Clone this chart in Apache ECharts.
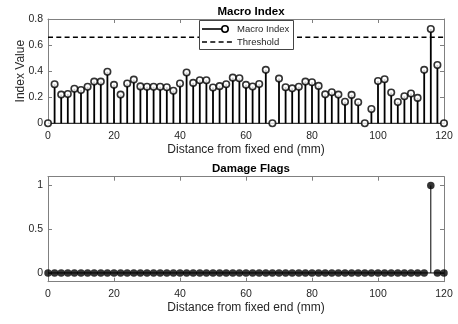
<!DOCTYPE html>
<html>
<head>
<meta charset="utf-8">
<script src="https://cdn.jsdelivr.net/npm/echarts@6/dist/echarts.min.js"></script>
<style>
html,body{margin:0;padding:0;background:#fff;}
#chart{width:458px;height:324px;}
</style>
</head>
<body>
<div id="chart"></div>
<script>
// Positions along the beam (mm)
const positions = [0,2,4,6,8,10,12,14,16,18,20,22,24,26,28,30,32,34,36,38,40,42,44,46,48,50,52,54,56,58,60,62,64,66,68,70,72,74,76,78,80,82,84,86,88,90,92,94,96,98,100,102,104,106,108,110,112,114,116,118,120];
// Macro index values
const macroIndex = [0,0.30,0.22,0.225,0.265,0.255,0.28,0.32,0.32,0.395,0.295,0.22,0.305,0.335,0.283,0.28,0.28,0.28,0.277,0.25,0.305,0.39,0.31,0.33,0.33,0.275,0.285,0.30,0.35,0.345,0.295,0.282,0.302,0.41,0,0.343,0.277,0.268,0.28,0.32,0.315,0.287,0.222,0.238,0.22,0.165,0.218,0.162,0,0.11,0.325,0.338,0.236,0.163,0.207,0.228,0.195,0.41,0.723,0.447,0];
// Damage flags
const damageFlags = [0,0,0,0,0,0,0,0,0,0,0,0,0,0,0,0,0,0,0,0,0,0,0,0,0,0,0,0,0,0,0,0,0,0,0,0,0,0,0,0,0,0,0,0,0,0,0,0,0,0,0,0,0,0,0,0,0,0,1,0,0];
const threshold = 0.66;
const xTicks = [0,20,40,60,80,100,120];
const topYTicks = [0,0.2,0.4,0.6,0.8];
const bottomYTicks = [0,0.5,1];

const FONT = "'Liberation Sans', Arial, Helvetica, sans-serif";
const AX = '#808080';
const TXT = '#262626';

const macroData = positions.map((p,i)=>[p, macroIndex[i]]);
const flagData = positions.map((p,i)=>[p, damageFlags[i]]);

function stemRender(w){
  return function(params, api){
    const x = api.value(0), y = api.value(1);
    const p0 = api.coord([x,0]), p1 = api.coord([x,y]);
    return {type:'line', shape:{x1:p0[0],y1:p0[1],x2:p1[0],y2:p1[1]}, style:{stroke:'#000', lineWidth:w}};
  };
}

function xAx(gi){
  return {
    type:'value', gridIndex:gi, min:0, max:120, interval:20, position:'bottom',
    axisLine:{show:true, onZero:false, lineStyle:{color:AX,width:1}},
    axisTick:{show:true, inside:true, length:4, customValues:xTicks, lineStyle:{color:AX}},
    axisLabel:{show:true, margin:7, fontSize:10.5, fontFamily:FONT, color:TXT, customValues:xTicks},
    splitLine:{show:false},
    name:'Distance from fixed end (mm)', nameLocation:'middle', nameGap:20,
    nameTextStyle:{fontSize:12, fontFamily:FONT, color:TXT}
  };
}
function xAxTop(gi){
  return {
    type:'value', gridIndex:gi, min:0, max:120, interval:20, position:'top',
    axisLine:{show:true, onZero:false, lineStyle:{color:AX,width:1}},
    axisTick:{show:true, inside:true, length:4, customValues:xTicks, lineStyle:{color:AX}},
    axisLabel:{show:false}, splitLine:{show:false}
  };
}

const option = {
  backgroundColor:'#fff',
  animation:false,
  title:[
    {text:'Macro Index', left:246, top:1, textAlign:'center',
     textStyle:{fontSize:11.5, fontWeight:'bold', fontFamily:FONT, color:'#000'}},
    {text:'Damage Flags', left:246, top:158, textAlign:'center',
     textStyle:{fontSize:11.5, fontWeight:'bold', fontFamily:FONT, color:'#000'}}
  ],
  grid:[
    {left:48, right:14, top:19, height:104.3, outerBoundsMode:'none', containLabel:false},
    {left:48, right:14, top:176.7, height:105, outerBoundsMode:'none', containLabel:false}
  ],
  xAxis:[ xAx(0), xAxTop(0), xAx(1), xAxTop(1) ],
  yAxis:[
    {type:'value', gridIndex:0, min:0, max:0.8, interval:0.2, position:'left',
     axisLine:{show:true, onZero:false, lineStyle:{color:AX}},
     axisTick:{show:true, inside:true, length:4, customValues:topYTicks, lineStyle:{color:AX}},
     axisLabel:{margin:5, fontSize:10.5, fontFamily:FONT, color:TXT, customValues:topYTicks, formatter:v=>String(+(+v).toFixed(1))},
     splitLine:{show:false},
     name:'Index Value', nameLocation:'middle', nameGap:21, nameRotate:90, nameMoveOverlap:false,
     nameTextStyle:{fontSize:12, fontFamily:FONT, color:TXT}},
    {type:'value', gridIndex:0, min:0, max:0.8, interval:0.2, position:'right',
     axisLine:{show:true, onZero:false, lineStyle:{color:AX}},
     axisTick:{show:true, inside:true, length:4, customValues:topYTicks, lineStyle:{color:AX}},
     axisLabel:{show:false}, splitLine:{show:false}},
    {type:'value', gridIndex:1, min:-0.1, max:1.1, position:'left',
     axisLine:{show:true, onZero:false, lineStyle:{color:AX}},
     axisTick:{show:true, inside:true, length:4, customValues:bottomYTicks, lineStyle:{color:AX}},
     axisLabel:{margin:5, fontSize:10.5, fontFamily:FONT, color:TXT, customValues:bottomYTicks, formatter:v=>String(+(+v).toFixed(1))},
     splitLine:{show:false}},
    {type:'value', gridIndex:1, min:-0.1, max:1.1, position:'right',
     axisLine:{show:true, onZero:false, lineStyle:{color:AX}},
     axisTick:{show:true, inside:true, length:4, customValues:bottomYTicks, lineStyle:{color:AX}},
     axisLabel:{show:false}, splitLine:{show:false}}
  ],
  series:[
    {type:'line', xAxisIndex:0, yAxisIndex:0, data:[[0,threshold],[120,threshold]], symbol:'none',
     lineStyle:{color:'#000', width:1.6, type:[5,3.3]}, z:3, silent:true},
    {type:'line', xAxisIndex:0, yAxisIndex:0, data:[[0,0],[120,0]], symbol:'none',
     lineStyle:{color:'#000', width:1}, z:2, silent:true},
    {type:'custom', xAxisIndex:0, yAxisIndex:0, data:macroData, renderItem:stemRender(1.8), clip:false, z:4},
    {type:'scatter', xAxisIndex:0, yAxisIndex:0, data:macroData, symbol:'circle', symbolSize:6.5, clip:false,
     itemStyle:{color:'#fff', borderColor:'#000', borderWidth:1.6}, z:5},
    {type:'line', xAxisIndex:2, yAxisIndex:2, data:[[0,0],[120,0]], symbol:'none',
     lineStyle:{color:'#000', width:1}, z:2, silent:true},
    {type:'custom', xAxisIndex:2, yAxisIndex:2, data:flagData, renderItem:stemRender(1), clip:false, z:4},
    {type:'scatter', xAxisIndex:2, yAxisIndex:2, data:flagData, symbol:'circle', symbolSize:7.5, clip:false,
     itemStyle:{color:'#000', borderColor:'#000', borderWidth:0}, z:5}
  ],
  graphic:[
    {type:'rect', shape:{x:199.5, y:20.5, width:94, height:29}, style:{fill:'#fff', stroke:'#444', lineWidth:1}, z:100},
    {type:'line', shape:{x1:202, y1:29, x2:225, y2:29}, style:{stroke:'#000', lineWidth:1.6}, z:101},
    {type:'circle', shape:{cx:225, cy:29, r:3.2}, style:{fill:'#fff', stroke:'#000', lineWidth:1.6}, z:102},
    {type:'text', x:237, y:29, style:{text:'Macro Index', fontSize:9.5, fontFamily:FONT, fill:TXT, verticalAlign:'middle'}, z:101},
    {type:'line', shape:{x1:202, y1:42, x2:234, y2:42}, style:{stroke:'#000', lineWidth:1.6, lineDash:[5,3.3]}, z:101},
    {type:'text', x:237, y:42, style:{text:'Threshold', fontSize:9.5, fontFamily:FONT, fill:TXT, verticalAlign:'middle'}, z:101}
  ]
};
const chart = echarts.init(document.getElementById('chart'), null, {renderer:'canvas'});
chart.setOption(option);
</script>
</body>
</html>
